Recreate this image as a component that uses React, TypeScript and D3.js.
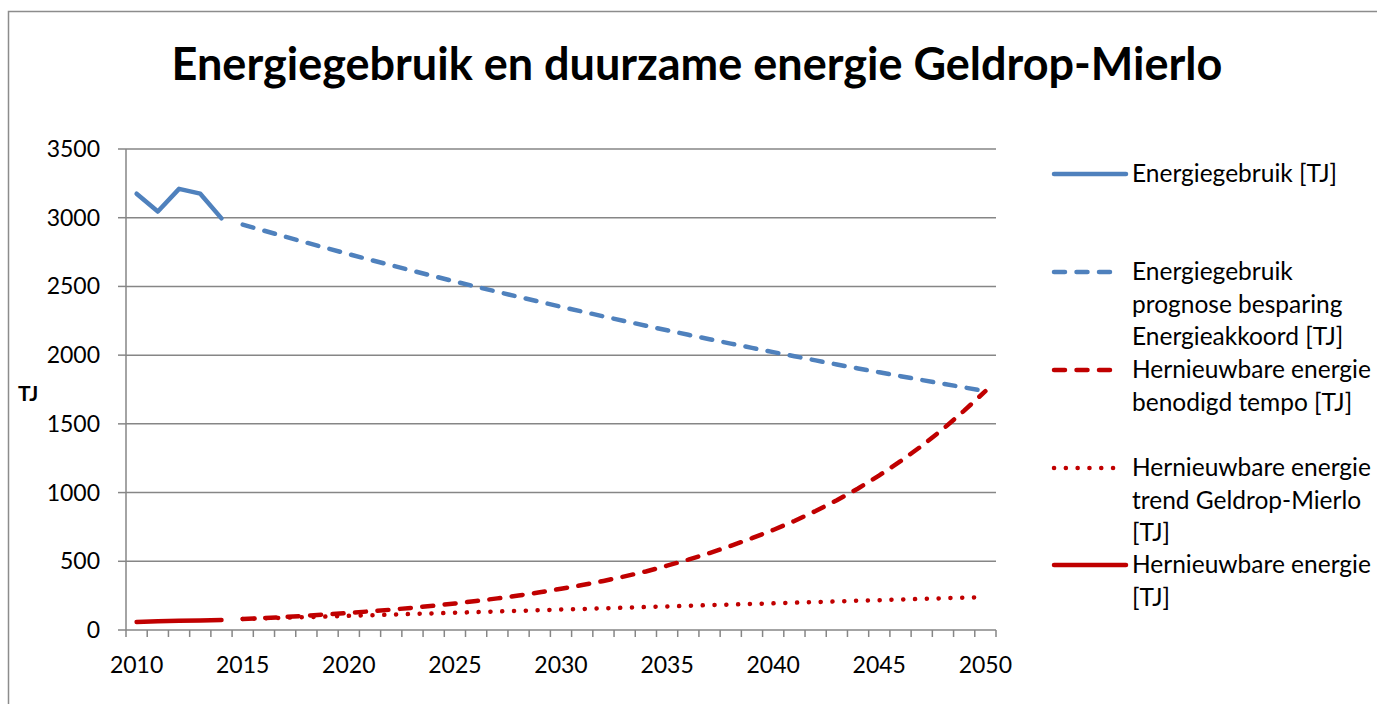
import React from "react";
import * as d3 from "d3";

const years: number[] = d3.range(2010, 2051);
const xTickLabels: number[] = [2010, 2015, 2020, 2025, 2030, 2035, 2040, 2045, 2050];
const yTicks: number[] = [0, 500, 1000, 1500, 2000, 2500, 3000, 3500];

const energyYears: number[] = [2010, 2011, 2012, 2013, 2014];
const energyActual: number[] = [3175, 3045, 3210, 3175, 2995];
const renewableActual: number[] = [58, 63, 67, 70, 73];

const prognoseYears: number[] = d3.range(2015, 2051);
const energyPrognose: number[] = [
  2950, 2906, 2862, 2819, 2777, 2735, 2694, 2654, 2614, 2575, 2536, 2498, 2461, 2424, 2388, 2352,
  2317, 2282, 2248, 2214, 2181, 2148, 2116, 2084, 2053, 2022, 1992, 1962, 1932, 1903, 1875, 1847,
  1819, 1792, 1765, 1738,
];
const renewableRequired: number[] = [
  80, 87, 95, 104, 114, 124, 136, 148, 162, 177, 193, 211, 230, 251, 274, 300, 327, 357, 390, 426,
  468, 512, 560, 612, 668, 728, 793, 866, 944, 1030, 1125, 1228, 1340, 1462, 1596, 1738,
];
const renewableTrend: number[] = [
  80, 85, 89, 94, 98, 103, 107, 112, 117, 121, 126, 130, 135, 139, 144, 149, 153, 158, 162, 167,
  171, 176, 181, 185, 190, 194, 199, 203, 208, 213, 217, 222, 226, 231, 235, 240,
];

const BLUE = "#4F81BD";
const RED = "#C00000";
const GRID = "#868686";
const FONT = "Lato, 'Open Sans', sans-serif";

const legendItems = [
  { lines: ["Energiegebruik [TJ]"], color: BLUE, dash: "none", y: 174, len: 72 },
  { lines: ["Energiegebruik", "prognose besparing", "Energieakkoord [TJ]"], color: BLUE, dash: "11 11.5", y: 272, len: 63 },
  { lines: ["Hernieuwbare energie", "benodigd tempo [TJ]"], color: RED, dash: "11 11.5", y: 370, len: 63 },
  { lines: ["Hernieuwbare energie", "trend Geldrop-Mierlo", "[TJ]"], color: RED, dash: "0.1 11.7", y: 468, len: 63 },
  { lines: ["Hernieuwbare energie", "[TJ]"], color: RED, dash: "none", y: 565, len: 72 },
];

export default function App() {
  const left = 126;
  const right = 996;
  const top = 149;
  const bottom = 630;

  const x = d3.scaleBand<number>().domain(years).range([left, right]).padding(0);
  const cx = (yr: number) => (x(yr) as number) + x.bandwidth() / 2;
  const y = d3.scaleLinear().domain([0, 3500]).range([bottom, top]);

  const line = (xs: number[], vs: number[]) =>
    d3.line<number>().x((_, i) => cx(xs[i])).y((v) => y(v))(vs) as string;

  const boundaries = d3.range(0, years.length + 1).map((i) => left + i * x.bandwidth());

  return (
    <svg width={1377} height={704} style={{ position: "absolute", left: 0, top: 0 }}>
      <rect x={0} y={0} width={1377} height={704} fill="#fff" />
      <rect x={8.5} y={11.5} width={1400} height={720} fill="#fff" stroke="#8c8c8c" strokeWidth={1.5} />
      <text x={697} y={80} textAnchor="middle" fontFamily={FONT} fontWeight={700} fontSize={45} fill="#000">
        Energiegebruik en duurzame energie Geldrop-Mierlo
      </text>

      {yTicks.map((t) => (
        <g key={t}>
          {t > 0 && <line x1={left} x2={right} y1={y(t)} y2={y(t)} stroke={GRID} strokeWidth={1.5} />}
          <line x1={left - 8} x2={left} y1={y(t)} y2={y(t)} stroke={GRID} strokeWidth={1.5} />
          <text x={100} y={y(t) + 8} textAnchor="end" fontFamily={FONT} fontSize={23} fill="#000">
            {t}
          </text>
        </g>
      ))}
      <line x1={left} x2={left} y1={top} y2={bottom} stroke={GRID} strokeWidth={1.5} />
      <line x1={left} x2={right} y1={bottom} y2={bottom} stroke={GRID} strokeWidth={1.5} />
      {boundaries.map((bx, i) => (
        <line key={i} x1={bx} x2={bx} y1={bottom} y2={bottom + 7} stroke={GRID} strokeWidth={1.5} />
      ))}
      {xTickLabels.map((yr) => (
        <text key={yr} x={cx(yr)} y={673} textAnchor="middle" fontFamily={FONT} fontSize={23} fill="#000">
          {yr}
        </text>
      ))}
      <text x={18} y={401} fontFamily={FONT} fontWeight={700} fontSize={21} fill="#000">
        TJ
      </text>

      <path d={line(prognoseYears, renewableTrend)} fill="none" stroke={RED} strokeWidth={4.5} strokeDasharray="0.1 11.7" strokeLinecap="round" />
      <path d={line(prognoseYears, energyPrognose)} fill="none" stroke={BLUE} strokeWidth={4.5} strokeDasharray="11 11.5" strokeLinecap="round" />
      <path d={line(prognoseYears, renewableRequired)} fill="none" stroke={RED} strokeWidth={4.5} strokeDasharray="11 11.5" strokeLinecap="round" />
      <path d={line(energyYears, energyActual)} fill="none" stroke={BLUE} strokeWidth={4.5} strokeLinecap="round" strokeLinejoin="round" />
      <path d={line(energyYears, renewableActual)} fill="none" stroke={RED} strokeWidth={4.5} strokeLinecap="round" strokeLinejoin="round" />

      {legendItems.map((it, k) => (
        <g key={k}>
          <line
            x1={1054}
            x2={1054 + it.len}
            y1={it.y}
            y2={it.y}
            stroke={it.color}
            strokeWidth={4.5}
            strokeDasharray={it.dash}
            strokeLinecap="round"
          />
          {it.lines.map((ln, j) => (
            <text key={j} x={1132} y={it.y + 8 + j * 32.5} fontFamily={FONT} fontSize={24.5} fill="#000">
              {ln}
            </text>
          ))}
        </g>
      ))}
    </svg>
  );
}
